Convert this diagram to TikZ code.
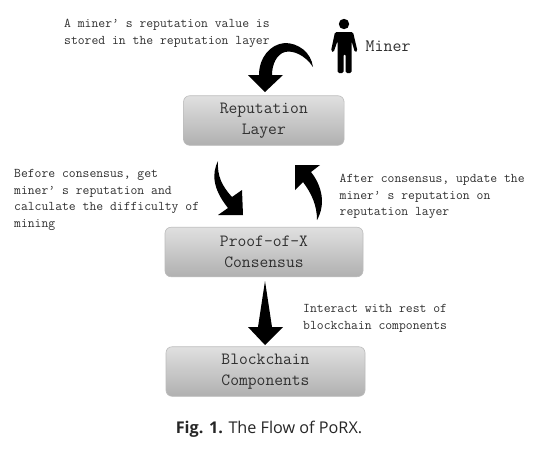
\documentclass[tikz,border=0pt]{standalone}
\usepackage{fontspec}
\newfontfamily\capfont{Open Sans}
\usetikzlibrary{shadings}
\definecolor{boxtop}{HTML}{E0E0E0}
\definecolor{boxbot}{HTML}{B0B0B0}
\definecolor{boxline}{HTML}{BCBCBC}
\definecolor{txt}{HTML}{303030}
\tikzset{
  layerbox/.style={rounded corners=6pt,draw=boxline,line width=0.6pt,top color=boxtop,bottom color=boxbot,
    minimum height=49.5pt,inner sep=0pt,align=center,text=txt,font=\ttfamily\fontsize{17.1}{21}\selectfont},
  note/.style={anchor=west,inner sep=0pt,align=left,text=txt,font=\ttfamily\fontsize{13.3}{16.8}\selectfont},
  blockarrow/.style={fill=black,draw=none}
}
\begin{document}
\begin{tikzpicture}[x=1pt,y=-1pt]
\useasboundingbox (0,0) rectangle (545,451);
\fill[white] (0,0) rectangle (545,451);
\node[layerbox,minimum width=160.5pt] (rep) at (263.8,120.5) {Reputation\\Layer};
\node[layerbox,minimum width=198pt] (pox) at (264,252) {Proof-of-X\\Consensus};
\node[layerbox,minimum width=199pt] (bc) at (265.5,371.5) {Blockchain\\Components};
\node[note] (n1) at (64,33.5) {A miner’ s reputation value is\\stored in the reputation layer};
\node[note] (n2) at (14,200) {Before consensus, get\\miner’ s reputation and\\calculate the difficulty of\\mining};
\node[note] (n3) at (339.5,196.5) {After consensus, update the\\miner’ s reputation on\\reputation layer};
\node[note] (n4) at (303,318.5) {Interact with rest of\\blockchain components};
\node[anchor=west,inner sep=0pt,text=txt,font=\ttfamily\fontsize{17.4}{20}\selectfont] (miner) at (365.5,46) {Miner};
\node[anchor=center,inner sep=0pt,font=\capfont\fontsize{16.2}{19}\selectfont,text=black!85] (cap) at (269,429) {\textbf{Fig. 1.} The Flow of PoRX.};
% top curved arrow
\fill[blockarrow] (313,67) .. controls (311,52) and (298,43) .. (285,43)
  .. controls (270,44) and (259,58) .. (259,75) -- (248,75) -- (265,92) -- (283,75) -- (272,75)
  .. controls (272,64) and (277,54) .. (285,52) .. controls (293,50) and (305,55) .. (313,67) -- cycle;
% left curved arrow
\fill[blockarrow] (218,161) .. controls (212,173) and (212,188) .. (228,208) -- (218,215) -- (243,215) -- (242,190) -- (232,197)
  .. controls (222,186) and (217,176) .. (218,161) -- cycle;
% right curved arrow
\fill[blockarrow] (295,165) -- (320,165) -- (311,172) .. controls (322,186) and (326,204) .. (317,220)
  .. controls (317,206) and (312,194) .. (303,182) -- (295,190) -- cycle;
% straight spike arrow
\fill[blockarrow] (265,281) -- (272,327) -- (283,327) -- (265,345) -- (248,327) -- (258,327) -- cycle;
% miner icon
\fill[black] (344,24) circle (5.2);
\fill[black,rounded corners=1.5pt] (335,32) -- (353,32) -- (357.5,51) -- (355,52.5) -- (351.5,41) -- (351.5,73) -- (345.5,73) -- (345.5,54) -- (343.5,54) -- (343.5,73) -- (337.5,73) -- (337.5,41) -- (333.5,52.5) -- (331,51) -- cycle;
\end{tikzpicture}
\end{document}
